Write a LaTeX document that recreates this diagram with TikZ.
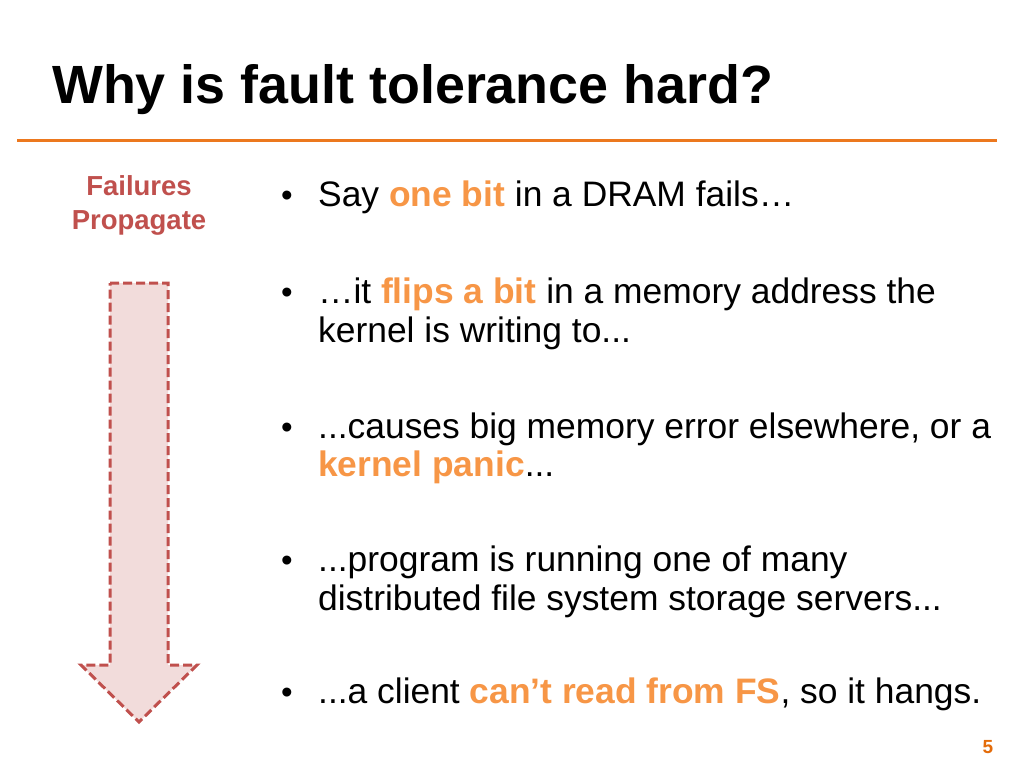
\documentclass[tikz,border=0pt]{standalone}
\usepackage{fontspec}
\setmainfont{Liberation Sans}
\definecolor{hl}{RGB}{247,150,70}
\definecolor{rule}{RGB}{236,120,30}
\definecolor{fred}{RGB}{192,80,77}
\definecolor{fpink}{RGB}{242,220,219}
\definecolor{pnum}{RGB}{228,108,10}
\newcommand{\hlt}[1]{\textcolor{hl}{\bfseries #1}}
\begin{document}
\begin{tikzpicture}[x=1pt,y=-1pt,
  body/.style={anchor=base west,inner sep=0pt,font=\fontsize{35.4}{40}\selectfont},
  bul/.style={anchor=base,inner sep=0pt,font=\fontsize{33}{40}\selectfont},
  side/.style={anchor=base,inner sep=0pt,text=fred,font=\fontsize{27.5}{32}\selectfont\bfseries}]
\useasboundingbox (0,0) rectangle (1024,768);
\fill[white] (0,0) rectangle (1024,768);
% title
\node[anchor=base west,inner sep=0pt,font=\fontsize{55}{60}\selectfont\bfseries] (title) at (52,103) {\resizebox{721pt}{!}{Why is fault tolerance hard?}};
\draw[rule,line width=3pt] (17,140) -- (997,140);
% side label
\node[side] (f1) at (139,195) {Failures};
\node[side] (f2) at (139,229) {Propagate};
% arrow
\draw[fred,fill=fpink,line width=3pt,dash pattern=on 9pt off 4pt]
  (110,283) -- (168,283) -- (168,665) -- (197,665) -- (139,722) -- (81,665) -- (110,665) -- cycle;
% bullets
\node[bul] (b1) at (287,206) {•};
\node[body] (l1) at (318,206) {Say \hlt{one bit} in a DRAM fails…};
\node[bul] (b2) at (287,303) {•};
\node[body] (l2a) at (318,303) {…it \hlt{flips a bit} in a memory address the};
\node[body] (l2b) at (318,342) {kernel is writing to...};
\node[bul] (b3) at (287,438) {•};
\node[body] (l3a) at (318,438) {...causes big memory error elsewhere, or a};
\node[body] (l3b) at (318,476) {\hlt{kernel panic}...};
\node[bul] (b4) at (287,571) {•};
\node[body] (l4a) at (318,571) {...program is running one of many};
\node[body] (l4b) at (318,610) {distributed file system storage servers...};
\node[bul] (b5) at (287,703) {•};
\node[body] (l5) at (318,703) {...a client \hlt{can’t read from FS}, so it hangs.};
\node[anchor=base,inner sep=0pt,text=pnum,font=\fontsize{19}{22}\selectfont\bfseries] (pg) at (988,753) {5};
\end{tikzpicture}
\end{document}
